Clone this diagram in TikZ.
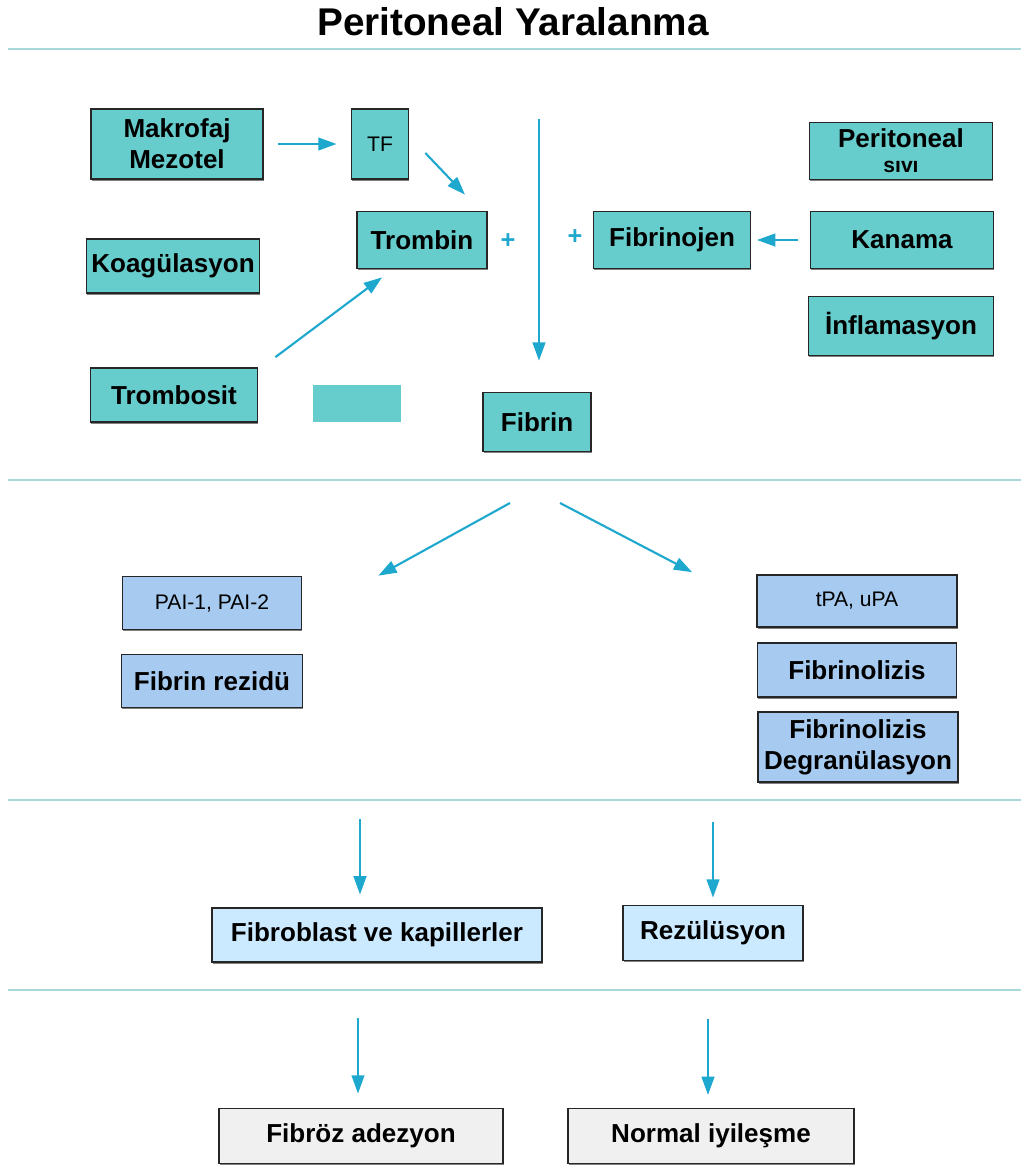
\documentclass[tikz,border=0pt]{standalone}
\usepackage{fontspec}
\setmainfont{Liberation Sans}
\usepackage{tikz}
\usetikzlibrary{arrows.meta,calc,shadows}
\definecolor{tealfill}{RGB}{102,204,204}
\definecolor{bluefill}{RGB}{166,202,240}
\definecolor{palefill}{RGB}{204,234,255}
\definecolor{greyfill}{RGB}{240,240,240}
\definecolor{flowline}{RGB}{30,168,206}
\definecolor{sepcol}{RGB}{168,216,218}
\tikzstyle{box} = [draw=black!85, line width=1.2pt, inner sep=0pt, align=center,
  font={\bfseries\fontsize{18.5}{22}\selectfont},
  drop shadow={shadow xshift=0.6pt, shadow yshift=-1.4pt, fill=black!50, opacity=1}]
\tikzstyle{tealbox} = [box, fill=tealfill]
\tikzstyle{bluebox} = [box, fill=bluefill]
\tikzstyle{palebox} = [box, fill=palefill]
\tikzstyle{greybox} = [box, fill=greyfill]
\tikzstyle{plainlbl} = [font={\mdseries\fontsize{15}{18}\selectfont}]
\tikzstyle{flow} = [draw=flowline, line width=1.5pt, -{Triangle[length=13pt,width=9pt]}]
\tikzstyle{sepline} = [draw=sepcol, line width=1.6pt]
\tikzstyle{plus} = [text=flowline, inner sep=0pt, font={\bfseries\fontsize{18}{18}\selectfont}]

\begin{document}
\begin{tikzpicture}[x=0.025cm, y=-0.025cm]
  \useasboundingbox (0,0) rectangle (1021,1165);

  \node[at={(513,22)}, font={\bfseries\fontsize{27.5}{30}\selectfont}] (title) {Peritoneal Yaralanma};

  \draw[sepline] (8,49) -- (1021,49);
  \draw[sepline] (8,480) -- (1021,480);
  \draw[sepline] (8,800) -- (1021,800);
  \draw[sepline] (8,990) -- (1021,990);

  \node[tealbox, at={(177,144)}, minimum width=4.3cm, minimum height=1.75cm] (makrofaj) {Makrofaj\\Mezotel};
  \node[tealbox, plainlbl, at={(380,144)}, minimum width=1.425cm, minimum height=1.75cm] (tf) {TF};
  \node[tealbox, at={(422,240)}, minimum width=3.25cm, minimum height=1.425cm] (trombin) {Trombin};
  \node[tealbox, at={(173,266)}, minimum width=4.325cm, minimum height=1.35cm] (koag) {Koagülasyon};
  \node[tealbox, at={(174,395)}, minimum width=4.175cm, minimum height=1.35cm] (trombosit) {Trombosit};
  \node[fill=tealfill, inner sep=0pt, at={(357,403)}, minimum width=2.175cm, minimum height=0.925cm] (blank) {};
  \node[tealbox, at={(537,422)}, minimum width=2.7cm, minimum height=1.475cm] (fibrin) {Fibrin};
  \node[tealbox, at={(901,151)}, minimum width=4.575cm, minimum height=1.425cm] (psivi) {Peritoneal\\[-4pt]{\fontsize{15}{15}\selectfont sıvı}};
  \node[tealbox, at={(672,240)}, minimum width=3.925cm, minimum height=1.425cm] (fibrinojen) {Fibrinojen};
  \node[tealbox, at={(902,240)}, minimum width=4.575cm, minimum height=1.425cm] (kanama) {Kanama};
  \node[tealbox, at={(901,326)}, minimum width=4.625cm, minimum height=1.475cm] (inflam) {İnflamasyon};
  \node[plus, at={(508,241)}] (plusa) {+};
  \node[plus, at={(575,237)}] (plusb) {+};

  \draw[flow, shorten <=10pt, shorten >=10pt] (makrofaj) -- (tf);
  \draw[flow] ([shift={(16,9)}]tf.east) -- ([shift={(43,-16)}]trombin.north);
  \draw[flow] ([shift={(17,-10)}]trombosit.north east) -- ([shift={(-40,8)}]trombin.south);
  \draw[flow, shorten <=8pt, shorten >=4pt] (kanama.west) -- (fibrinojen.east);
  \coordinate (mix) at (539,119);
  \draw[flow, shorten >=22pt] (mix) -- (mix |- fibrin.north);

  \node[bluebox, plainlbl, at={(212,603)}, minimum width=4.475cm, minimum height=1.325cm] (pai) {PAI-1, PAI-2};
  \node[bluebox, at={(212,681)}, minimum width=4.525cm, minimum height=1.325cm] (rezidu) {Fibrin rezidü};
  \node[bluebox, plainlbl, at={(857,601)}, minimum width=5cm, minimum height=1.3cm] (tpa) {tPA, uPA};
  \node[bluebox, at={(857,670)}, minimum width=4.975cm, minimum height=1.35cm] (lizis) {Fibrinolizis};
  \node[bluebox, at={(858,747)}, minimum width=5cm, minimum height=1.75cm] (degran) {Fibrinolizis\\Degranülasyon};

  \coordinate (splitl) at (510,503);
  \coordinate (splitr) at (560,503);
  \draw[flow] (splitl) -- ([shift={(76,0)}]pai.north east);
  \draw[flow] (splitr) -- ([shift={(-64,-2)}]tpa.north west);

  \node[palebox, at={(377,935)}, minimum width=8.25cm, minimum height=1.35cm] (fibroblast) {Fibroblast ve kapillerler};
  \node[palebox, at={(713,933)}, minimum width=4.5cm, minimum height=1.375cm] (rezulusyon) {Rezülüsyon};
  \coordinate (sa) at (360,819);
  \coordinate (sb) at (713,822);
  \draw[flow, shorten >=9pt] (sa) -- (sa |- fibroblast.north);
  \draw[flow, shorten >=5pt] (sb) -- (sb |- rezulusyon.north);

  \node[greybox, at={(361,1136)}, minimum width=7.1cm, minimum height=1.375cm] (fibroz) {Fibröz adezyon};
  \node[greybox, at={(711,1136)}, minimum width=7.15cm, minimum height=1.375cm] (normal) {Normal iyileşme};
  \coordinate (sc) at (358,1018);
  \coordinate (sd) at (708,1019);
  \draw[flow, shorten >=10pt] (sc) -- (sc |- fibroz.north);
  \draw[flow, shorten >=9pt] (sd) -- (sd |- normal.north);
\end{tikzpicture}
\end{document}
